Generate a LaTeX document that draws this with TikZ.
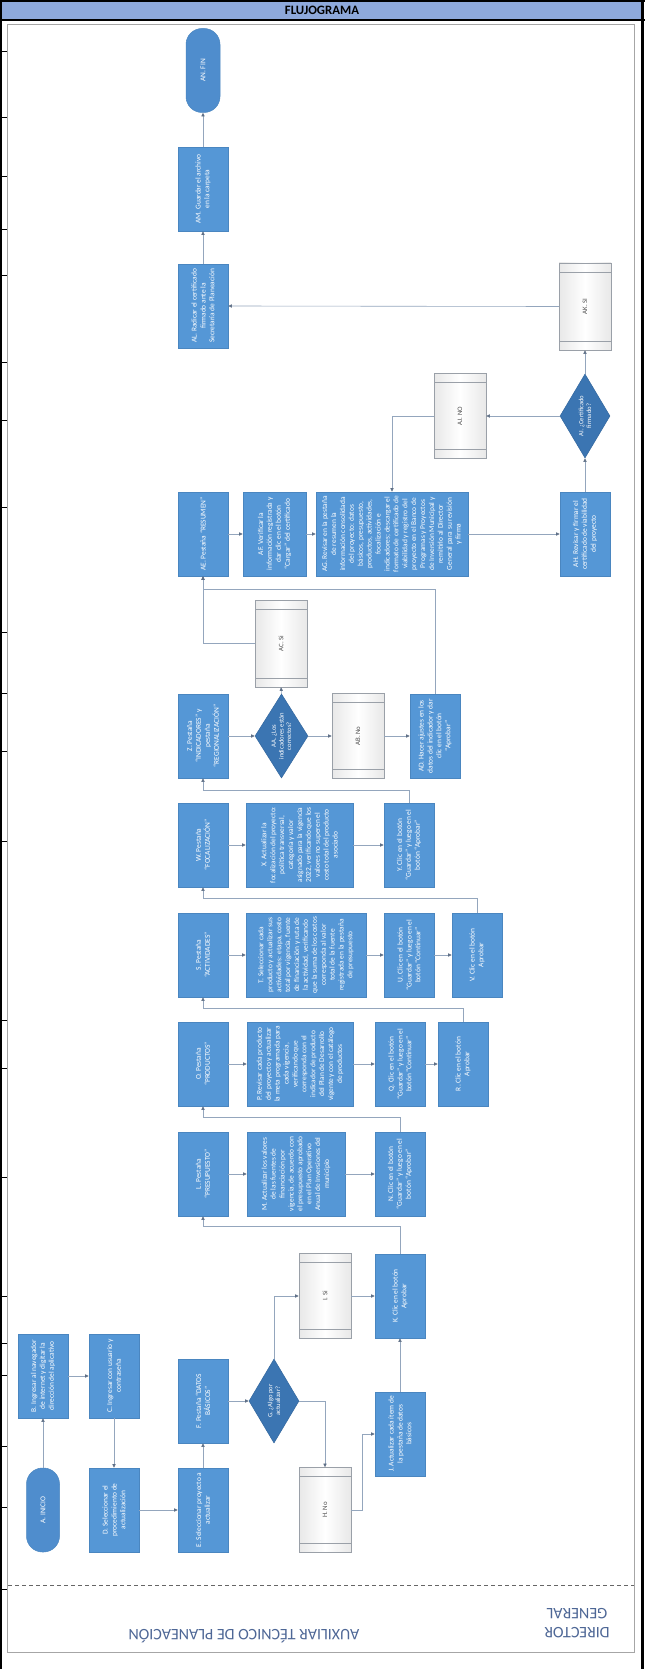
\documentclass[tikz,border=0pt]{standalone}
\usepackage{fontspec}
\setmainfont{Carlito}
\usepackage{graphicx}
\usetikzlibrary{arrows.meta,shapes.geometric}

\definecolor{procfill}{HTML}{5597D6}
\definecolor{procline}{HTML}{4A86C0}
\definecolor{decfill}{HTML}{3B75B2}
\definecolor{decline}{HTML}{33679E}
\definecolor{termfill}{HTML}{4F8DCD}
\definecolor{docline}{HTML}{9AA0A8}
\definecolor{wire}{HTML}{94A6BD}
\definecolor{wiretip}{HTML}{5E6F86}
\definecolor{titlefill}{HTML}{8EA9DB}
\definecolor{lanetext}{HTML}{4E6796}
\definecolor{framegray}{HTML}{A6A6A6}

% vertical text block: width of the (rotated) paragraph, then its content
\newcommand\vt[2]{\rotatebox{90}{\parbox{#1pt}{\centering #2}}}

\tikzset{
  proc/.style={rectangle, draw=procline, fill=procfill, line width=0.5pt,
    inner sep=0pt, text=white, font=\fontsize{7.4}{8.9}\selectfont,
    minimum width=50, minimum height=84},
  term/.style={rectangle, rounded corners=16pt, draw=procline, fill=termfill,
    line width=0.5pt, inner sep=0pt, text=white, font=\fontsize{7.4}{8.9}\selectfont,
    minimum width=33, minimum height=84},
  dec/.style={diamond, draw=decline, fill=decfill, line width=0.5pt,
    inner sep=0pt, minimum width=50, minimum height=84},
  dectext/.style={text=white, font=\fontsize{6.6}{7.6}\selectfont},
  doc/.style={rectangle, draw=docline, line width=0.5pt,
    left color=black!9, right color=black!9, middle color=white,
    inner sep=0pt, minimum width=52, minimum height=85,
    text=black!70, font=\fontsize{6.8}{8}\selectfont,
    path picture={
      \draw[docline, line width=0.5pt]
        ([yshift=-9pt]path picture bounding box.north west) --
        ([yshift=-9pt]path picture bounding box.north east);
      \draw[docline, line width=0.5pt]
        ([yshift=9pt]path picture bounding box.south west) --
        ([yshift=9pt]path picture bounding box.south east);}},
  flow/.style={draw=wire, line width=0.6pt,
    -{Triangle[length=3.6pt, width=3.2pt, color=wiretip]}},
  lane/.style={text=lanetext, font=\fontsize{16}{19}\selectfont, align=center}
}

\begin{document}
\begin{tikzpicture}[x=1pt, y=-1pt]
\useasboundingbox (0,0) rectangle (645,1669);
\fill[white] (0,0) rectangle (645,1669);

% ---- sheet header and borders
\fill[titlefill] (2,1) rectangle (641,19);
\node[font=\fontsize{12.8}{14}\bfseries\selectfont] (title) at (322,10.5) {FLUJOGRAMA};
\draw[black, line width=1.6pt] (0,0.8) -- (645,0.8);
\draw[black, line width=1.6pt] (0,20) -- (645,20);
\draw[black, line width=2.4pt] (1.2,0) -- (1.2,1669);
\draw[black, line width=2.6pt] (642.5,0) -- (642.5,1669);
\foreach \yy in {51,117,176,229,275,362,420,507,632,693,751,841,1020,1068,1177,1296,1343,1375,1446,1507,1589}
  \draw[black, line width=0.6pt] (2,\yy) -- (6.5,\yy);

% ---- drawing frame and lane separator
\draw[framegray, line width=0.8pt] (7.5,24) rectangle (634,1652);
\draw[black!60, line width=0.7pt, dash pattern=on 4pt off 3pt] (8,1585) -- (634,1585);
\node[lane, rotate=180] (laneAux) at (244,1636) {AUXILIAR TÉCNICO DE PLANEACIÓN};
\node[lane, rotate=180] (laneDir) at (577,1623) {DIRECTOR\\GENERAL};

% ---- start and login
\node[term] (A) at (43,1510) {\vt{70}{A. INICIO}};
\node[proc] (B) at (43,1376) {\vt{76}{B. Ingresar al navegador de internet y digitar la dirección del aplicativo}};
\node[proc] (C) at (114,1376) {\vt{76}{C. Ingresar con usuario y contraseña}};
\node[proc] (D) at (114,1510) {\vt{76}{D. Seleccionar el procedimiento de actualización}};
\node[proc] (E) at (203,1510) {\vt{76}{E. Seleccionar proyecto a actualizar}};
\node[proc] (F) at (203,1401) {\vt{76}{F. Pestaña “DATOS BÁSICOS”}};
\node[dec] (G) at (274,1401) {};
\node[dectext] (Gt) at (G.center) {\vt{46}{G. ¿Algo por actualizar?}};
\node[doc] (I) at (325,1296) {\vt{60}{I. Si}};
\node[doc] (H) at (325,1510) {\vt{60}{H. No}};
\node[proc] (J) at (400,1434) {\vt{76}{J. Actualizar cada ítem de la pestaña de datos básicos}};
\node[proc] (K) at (400,1296) {\vt{76}{K. Clic en el botón Aprobar}};

% ---- budget
\node[proc] (L) at (203,1174) {\vt{76}{L. Pestaña “PRESUPUESTO”}};
\node[proc, minimum width=98] (M) at (296,1174) {\vt{76}{M. Actualizar los valores de las fuentes de financiación por vigencia, de acuerdo con el presupuesto aprobado en el Plan Operativo Anual de Inversiones del municipio}};
\node[proc] (N) at (400,1174) {\vt{76}{N. Clic en el botón “Guardar” y luego en el botón “Aprobar”}};

% ---- products
\node[proc] (O) at (203,1064) {\vt{76}{O. Pestaña “PRODUCTOS”}};
\node[proc, minimum width=106] (P) at (300,1064) {\vt{76}{P. Revisar cada producto del proyecto y actualizar la meta programada para cada vigencia, verificando que corresponda con el indicador de producto del Plan de Desarrollo vigente y con el catálogo de productos}};
\node[proc] (Q) at (400,1064) {\vt{76}{Q. Clic en el botón “Guardar” y luego en el botón “Continuar”}};
\node[proc] (R) at (463,1064) {\vt{76}{R. Clic en el botón Aprobar}};

% ---- activities
\node[proc] (S) at (203,955) {\vt{76}{S. Pestaña “ACTIVIDADES”}};
\node[proc, minimum width=120] (T) at (306,955) {\vt{76}{T. Seleccionar cada producto y actualizar sus actividades: etapa, costo total por vigencia, fuente de financiación y ruta de la actividad, verificando que la suma de los costos corresponda al valor total de la fuente registrada en la pestaña de presupuesto}};
\node[proc] (U) at (409,955) {\vt{76}{U. Clic en el botón “Guardar” y luego en el botón “Continuar”}};
\node[proc] (V) at (477,955) {\vt{76}{V. Clic en el botón Aprobar}};

% ---- targeting
\node[proc] (W) at (203,845) {\vt{76}{W. Pestaña “FOCALIZACIÓN”}};
\node[proc, minimum width=107] (X) at (299.5,845) {\vt{76}{X. Actualizar la focalización del proyecto: política transversal, categoría y valor asignado para la vigencia 2022, verificando que los valores no superen el costo total del producto asociado}};
\node[proc] (Y) at (409,845) {\vt{76}{Y. Clic en el botón “Guardar” y luego en el botón “Aprobar”}};

% ---- indicators
\node[proc] (Z) at (203,736) {\vt{76}{Z. Pestaña “INDICADORES” y pestaña “REGIONALIZACIÓN”}};
\node[dec, minimum width=53] (AA) at (281.5,736) {};
\node[dectext] (AAt) at (AA.center) {\vt{48}{AA. ¿Los indicadores están correctos?}};
\node[doc] (AB) at (358,736) {\vt{60}{AB. No}};
\node[doc, minimum height=87] (AC) at (281,643.5) {\vt{60}{AC. Si}};
\node[proc] (AD) at (435,736) {\vt{76}{AD. Hacer ajustes en los datos del indicador y dar clic en el botón “Aprobar”}};

% ---- summary and certificate
\node[proc] (AE) at (203,534) {\vt{76}{AE. Pestaña “RESUMEN”}};
\node[proc, minimum width=63] (AF) at (274.5,534) {\vt{76}{AF. Verificar la información registrada y dar clic en el botón “Cargar” del certificado}};
\node[proc, minimum width=152] (AG) at (392,534) {\vt{76}{AG. Revisar en la pestaña de resumen la información consolidada del proyecto: datos básicos, presupuesto, productos, actividades, focalización e indicadores; descargar el formato de certificado de viabilidad y registro del proyecto en el Banco de Programas y Proyectos de Inversión Municipal y remitirlo al Director General para su revisión y firma}};
\node[proc] (AH) at (585,534) {\vt{76}{AH. Revisar y firmar el certificado de viabilidad del proyecto}};
\node[dec] (AI) at (585,416) {};
\node[dectext] (AIt) at (AI.center) {\vt{46}{AI. ¿Certificado firmado?}};
\node[doc] (AJ) at (460,416) {\vt{60}{AJ. NO}};
\node[doc, minimum height=87] (AK) at (585,306.5) {\vt{60}{AK. SI}};
\node[proc] (AL) at (203,306) {\vt{76}{AL. Radicar el certificado firmado ante la Secretaría de Planeación}};
\node[proc] (AM) at (203,189) {\vt{76}{AM. Guardar el archivo en la carpeta}};
\node[term, minimum width=34] (AN) at (203,70.5) {\vt{70}{AN. FIN}};

% ---- connectors
\draw[flow] (A.north) -- (B.south);
\draw[flow] (B.east) -- (C.west);
\draw[flow] (C.south) -- (D.north);
\draw[flow] (D.east) -- (E.west);
\draw[flow] (E.north) -- (F.south);
\draw[flow] (F.east) -- (G.west);
\draw[flow] (G.north) |- (I.west);
\draw[flow] (I.east) -- (K.west);
\draw[flow] (G.east) -| (H.north);
\draw[flow] (H.east) -- ++(11,0) |- (J.west);
\draw[flow] (J.north) -- (K.south);
\draw[flow] (K.north) -- ++(0,-27) -| (L.south);

\draw[flow] (L.east) -- (M.west);
\draw[flow] (M.east) -- (N.west);
\draw[flow] (N.north) -- ++(0,-14) -| (O.south);

\draw[flow] (O.east) -- (P.west);
\draw[flow] (P.east) -- (Q.west);
\draw[flow] (Q.east) -- (R.west);
\draw[flow] (R.north) -- ++(0,-13) -| (S.south);

\draw[flow] (S.east) -- (T.west);
\draw[flow] (T.east) -- (U.west);
\draw[flow] (U.east) -- (V.west);
\draw[flow] (V.north) -- ++(0,-14) -| (W.south);

\draw[flow] (W.east) -- (X.west);
\draw[flow] (X.east) -- (Y.west);
\draw[flow] (Y.north) -- ++(0,-12) -| (Z.south);

\draw[flow] (Z.east) -- (AA.west);
\draw[flow] (AA.east) -- (AB.west);
\draw[flow] (AB.east) -- (AD.west);
\draw[flow] (AA.north) -- (AC.south);
\draw[flow] (AC.west) -| (AE.south);
\draw[flow] (AD.north) -- ++(0,-104) -| (AE.south);

\draw[flow] (AE.east) -- (AF.west);
\draw[flow] (AF.east) -- (AG.west);
\draw[flow] (AG.east) -- (AH.west);
\draw[flow] (AH.north) -- (AI.south);
\draw[flow] (AI.west) -- (AJ.east);
\draw[flow] (AJ.west) -| (AG.north);
\draw[flow] (AI.north) -- (AK.south);
\draw[flow] (AK.west) -- (AL.east);
\draw[flow] (AL.north) -- (AM.south);
\draw[flow] (AM.north) -- (AN.south);
\end{tikzpicture}
\end{document}
